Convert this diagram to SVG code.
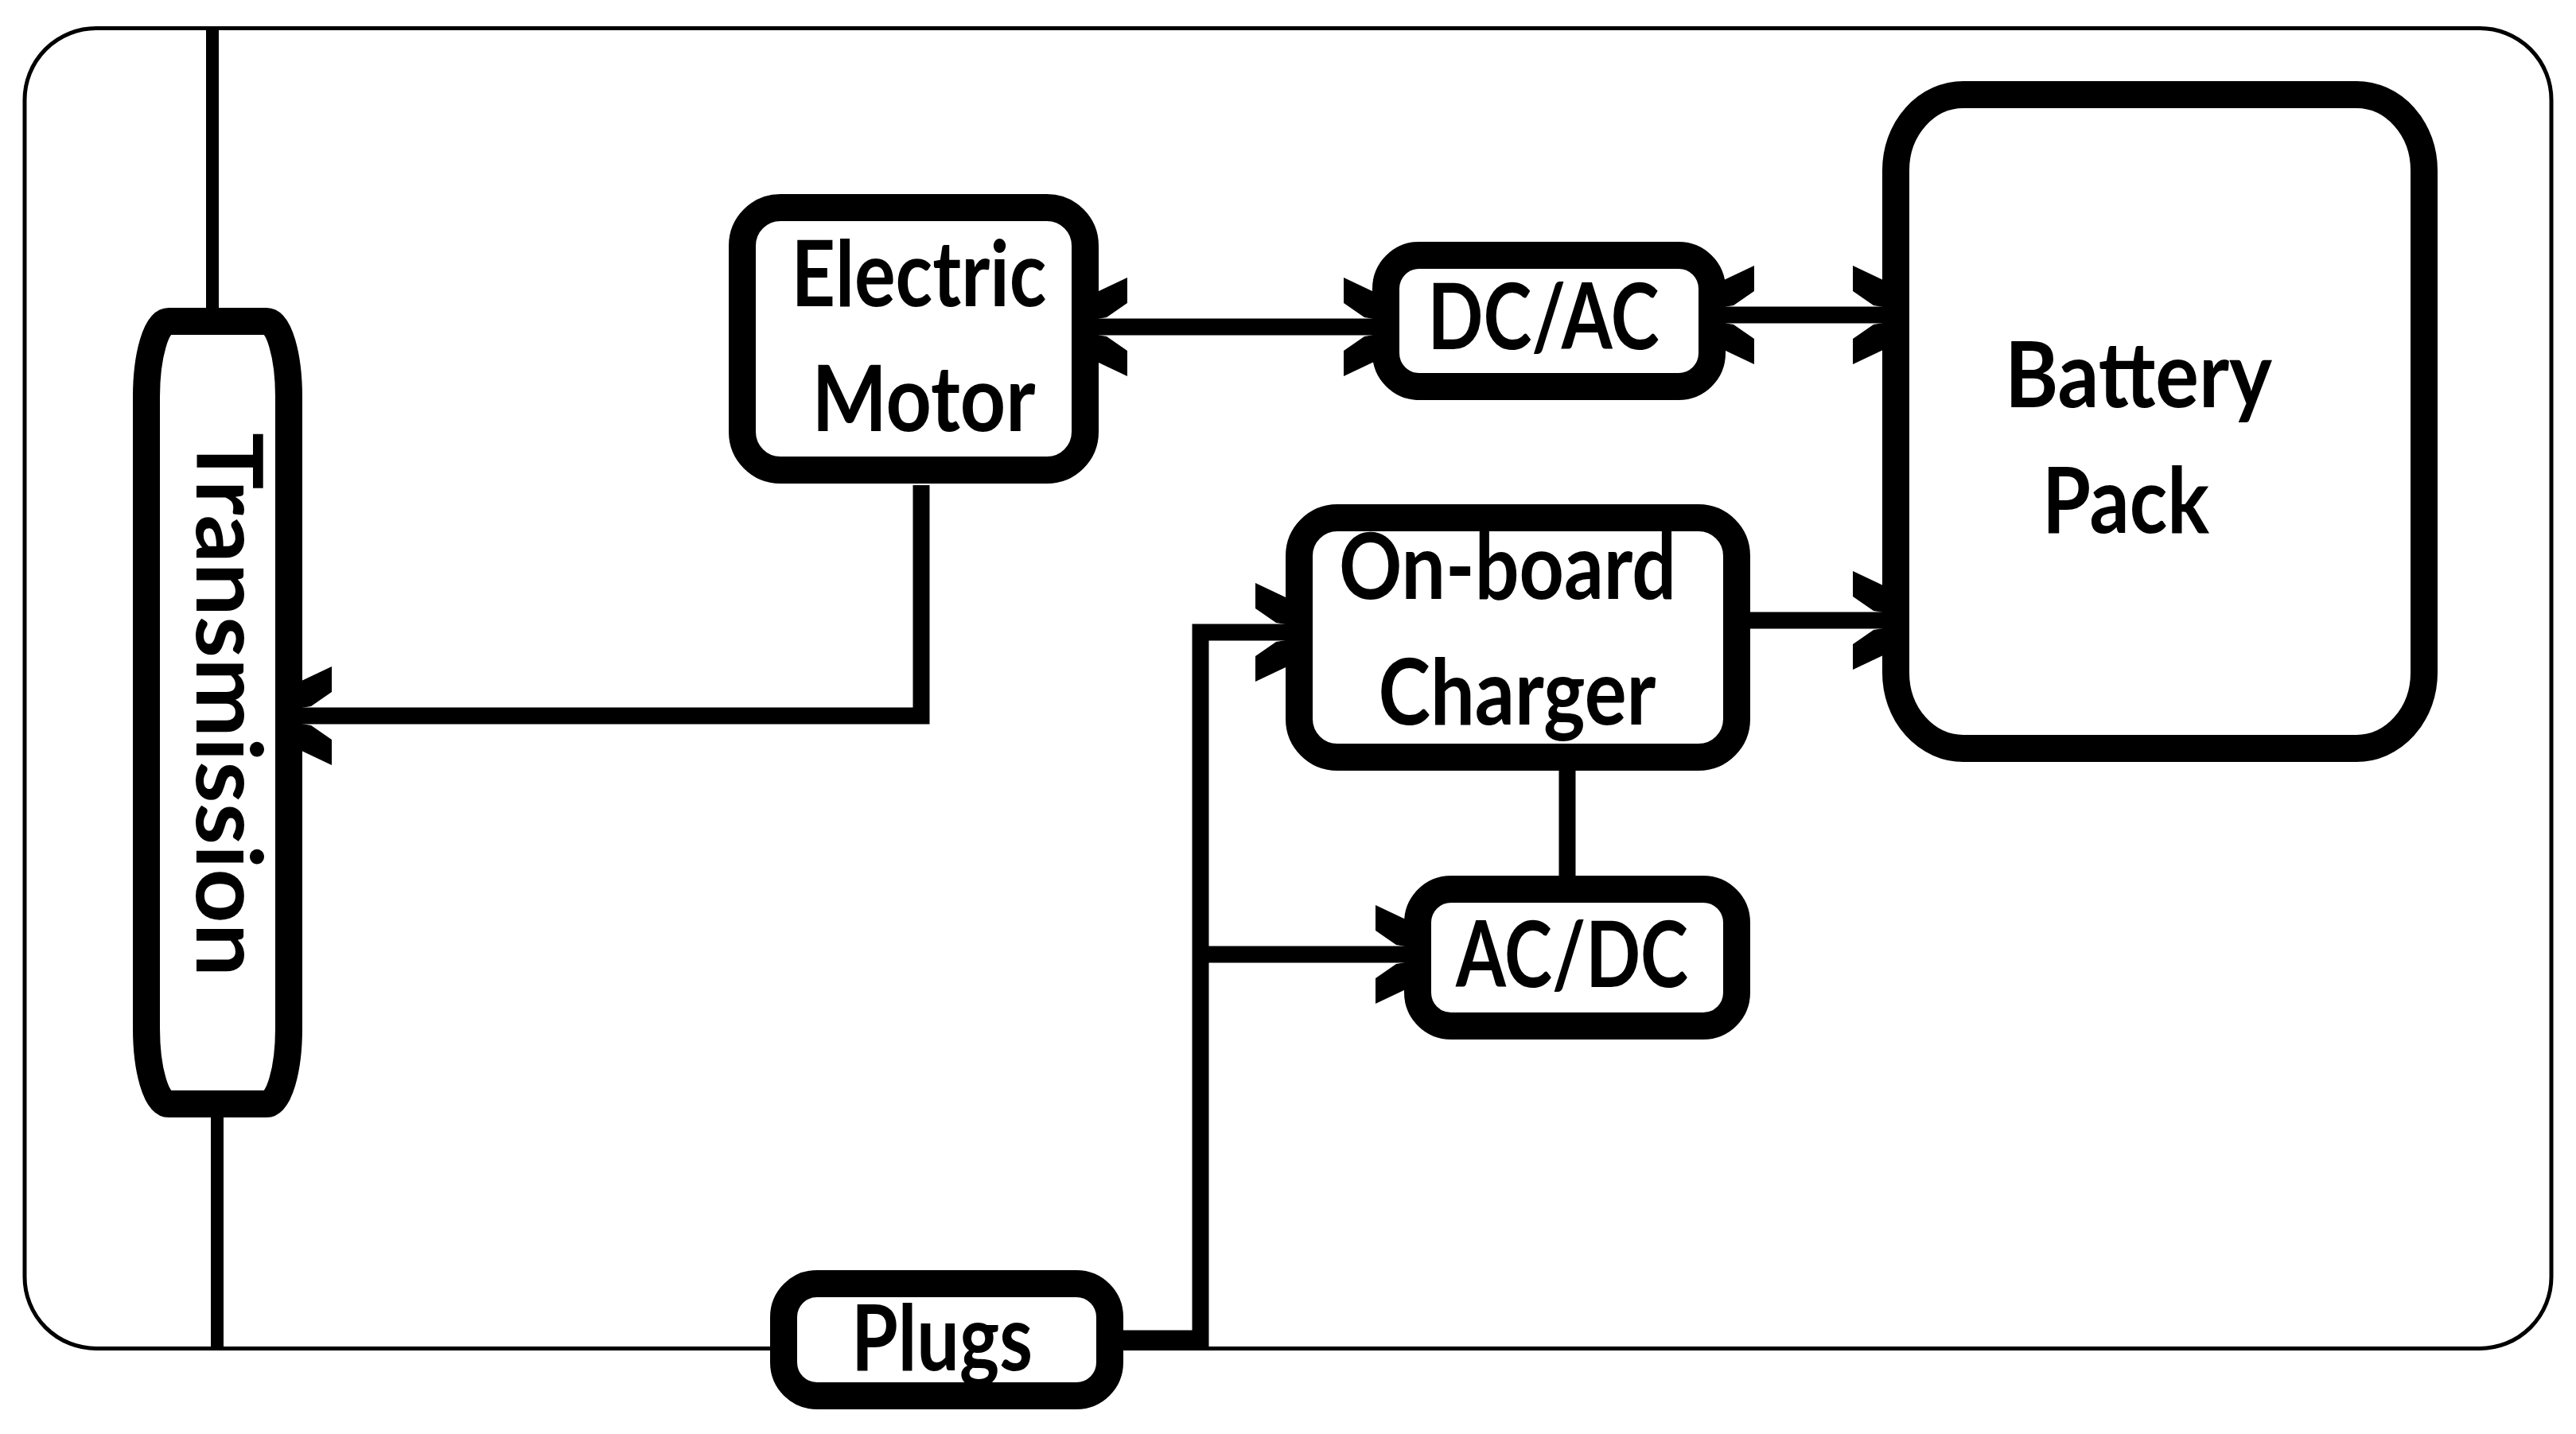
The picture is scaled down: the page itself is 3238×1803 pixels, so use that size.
<svg xmlns="http://www.w3.org/2000/svg" width="3238" height="1803" viewBox="0 0 3238 1803">
  <style>
    .node { fill: #ffffff; stroke: #000000; stroke-width: 34; }
    .frame { fill: none; stroke: #000000; stroke-width: 5; }
    .bus { fill: none; stroke: #000000; stroke-width: 16; }
    .conn { fill: none; stroke: #000000; stroke-width: 21; stroke-linejoin: miter; stroke-linecap: butt; }
    .lbl { font-family: Lato, "Liberation Sans", Arial, sans-serif; font-weight: bold; font-size: 114px; fill: #000000; text-anchor: middle; }
  </style>
  <defs>
    <marker id="arrow" markerUnits="userSpaceOnUse" orient="auto-start-reverse" refX="0" refY="0" markerWidth="80" markerHeight="160" viewBox="-60 -80 80 160" overflow="visible">
      <path d="M0,-10 L0,-44 L-38,-62 L-38,-30 L-12,-12 Z M0,10 L0,44 L-38,62 L-38,30 L-12,12 Z" fill="#000000"/>
    </marker>
  </defs>

  <rect width="3238" height="1803" fill="#ffffff"/>

  <g id="frame">
    <rect class="frame" x="31" y="35.5" width="3176" height="1660" rx="90" ry="90"/>
    <line class="bus" x1="267" y1="35" x2="267" y2="404"/>
    <line class="bus" x1="273" y1="1388" x2="273" y2="1696" stroke-width="15"/>
  </g>

  <g id="transmission">
    <rect class="node" x="184" y="404" width="179" height="984" rx="28" ry="95"/>
    <text class="lbl" transform="translate(247 886) rotate(90)" font-size="98" textLength="684" lengthAdjust="spacingAndGlyphs">Transmission</text>
  </g>

  <g id="electric-motor">
    <rect class="node" x="933" y="261" width="431" height="330" rx="48" ry="48"/>
    <text class="lbl" x="1155" y="385" textLength="321" lengthAdjust="spacingAndGlyphs">Electric</text>
    <text class="lbl" x="1161" y="542" textLength="281" lengthAdjust="spacingAndGlyphs">Motor</text>
  </g>

  <g id="dc-ac">
    <rect class="node" x="1742" y="321" width="410" height="165" rx="42" ry="42"/>
    <text class="lbl" x="1940" y="439" textLength="291" lengthAdjust="spacingAndGlyphs">DC/AC</text>
  </g>

  <g id="battery-pack">
    <rect class="node" x="2383" y="119" width="664" height="822" rx="85" ry="95"/>
    <text class="lbl" x="2688" y="512" textLength="336" lengthAdjust="spacingAndGlyphs">Battery</text>
    <text class="lbl" x="2672" y="670" textLength="210" lengthAdjust="spacingAndGlyphs">Pack</text>
  </g>

  <g id="on-board-charger">
    <rect class="node" x="1633" y="651" width="550" height="301" rx="48" ry="48"/>
    <text class="lbl" x="1895" y="753" textLength="424" lengthAdjust="spacingAndGlyphs">On-board</text>
    <text class="lbl" x="1907" y="911" textLength="349" lengthAdjust="spacingAndGlyphs">Charger</text>
  </g>

  <g id="ac-dc">
    <rect class="node" x="1782" y="1118" width="401" height="172" rx="42" ry="42"/>
    <text class="lbl" x="1976" y="1241" textLength="292" lengthAdjust="spacingAndGlyphs">AC/DC</text>
  </g>

  <g id="plugs">
    <rect class="node" x="985" y="1614" width="410" height="141" rx="42" ry="42"/>
    <text class="lbl" x="1184" y="1723" textLength="228" lengthAdjust="spacingAndGlyphs">Plugs</text>
  </g>

  <g id="connectors">
    <path class="conn" d="M1379,411 H1727" stroke-width="22" marker-start="url(#arrow)" marker-end="url(#arrow)"/>
    <path class="conn" d="M2167,396 H2367" stroke-width="22" marker-start="url(#arrow)" marker-end="url(#arrow)"/>
    <path class="conn" d="M2198,780 H2367" marker-end="url(#arrow)"/>
    <path class="conn" d="M1158,610 V900 H379" stroke-width="20" marker-end="url(#arrow)"/>
    <path class="conn" d="M1509,1696 V795 H1616" stroke-width="19" marker-end="url(#arrow)"/>
    <path class="conn" d="M1509,1200 H1767" marker-end="url(#arrow)"/>
    <path class="conn" d="M1411,1683 H1518" stroke-width="25"/>
    <path class="conn" d="M1970,952 V1118" stroke-width="17"/>
  </g>
</svg>
